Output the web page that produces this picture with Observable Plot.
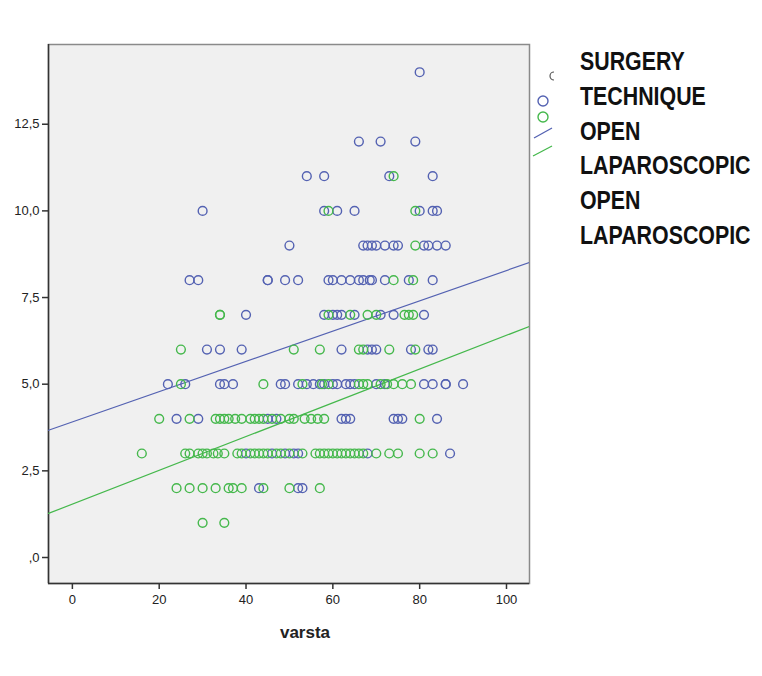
<!DOCTYPE html>
<html>
<head>
<meta charset="utf-8">
<script src="https://cdn.jsdelivr.net/npm/d3@7"></script>
<script src="https://cdn.jsdelivr.net/npm/@observablehq/plot@0.6"></script>
<style>
  html, body { margin: 0; padding: 0; background: #fff; }
  #wrap { position: relative; width: 762px; height: 676px; }
  #wrap svg.overlay { position: absolute; left: 0; top: 0; pointer-events: none; }
</style>
</head>
<body>
<div id="wrap"></div>
<script>
// ---- data ----
const groups = ["OPEN", "LAPAROSCOPIC"];
const groupColors = ["#5462b2", "#45b84c"];

// [score, [varsta values...]]
const openRows = [
  [14, [80]],
  [12, [66, 71, 79]],
  [11, [54, 58, 73, 83]],
  [10, [30, 58, 61, 65, 80, 83, 84]],
  [9,  [50, 67, 68, 69, 70, 72, 74, 75, 81, 82, 84, 86]],
  [8,  [27, 29, 45, 45, 49, 52, 59, 60, 62, 64, 66, 67, 68.5, 69, 72, 77.5, 83]],
  [7,  [40, 58, 60, 61, 62, 65, 71, 74, 81]],
  [6,  [31, 34, 39, 62, 68, 69, 70, 78, 82, 83]],
  [5,  [22, 26, 34, 35, 37, 48, 49, 52, 54, 55.5, 57, 58, 60, 61, 63, 64, 65, 70, 72, 81, 83, 86, 86, 90]],
  [4,  [24, 29, 45, 47, 62, 63, 64, 74, 75, 76, 84]],
  [3,  [40, 46, 49, 51, 52, 68, 87]],
  [2,  [43, 52, 53]]
];
const lapRows = [
  [11, [74]],
  [10, [59, 79]],
  [9,  [79]],
  [8,  [74, 78.5]],
  [7,  [34, 34, 59, 64, 68, 70, 76.5, 77.5, 78.5]],
  [6,  [25, 51, 57, 66, 67, 73, 79]],
  [5,  [25, 44, 53, 57.5, 59, 66, 67, 68, 71, 72.5, 74, 76, 78]],
  [4,  [20, 27, 33, 34, 35, 36, 37.5, 39, 41, 42, 43, 44, 46, 48, 50, 51, 53.5, 55, 56.5, 58, 80]],
  [3,  [16, 26, 27, 29, 30, 31, 32.5, 33.5, 35, 38, 39, 41, 42, 43, 44, 45, 47, 48, 50, 53, 56, 57, 58, 59, 60, 61, 62, 63, 64, 65, 66, 67, 70, 73, 75, 80, 83]],
  [2,  [24, 27, 30, 33, 36, 37, 39, 44, 50, 57]],
  [1,  [30, 35]]
];

// fit lines (intercept, slope) per group
const fitIntercepts = [3.91, 1.54];
const fitSlopes = [0.0437, 0.0487];

const xDomain = [-5.5, 105.3];
const yDomain = [-0.75, 14.8];
const xTicks = [0, 20, 40, 60, 80, 100];
const yTicks = [0, 2.5, 5, 7.5, 10, 12.5];
const yTickLabels = [",0", "2,5", "5,0", "7,5", "10,0", "12,5"];
const xLabel = "varsta";
const legendTitle = ["SURGERY", "TECHNIQUE"];
const legendItems = ["OPEN", "LAPAROSCOPIC", "OPEN", "LAPAROSCOPIC"];

// ---- build tables ----
const points = [];
[openRows, lapRows].forEach((rows, gi) => {
  rows.forEach(([score, xs]) => xs.forEach(v => points.push({varsta: v, score, group: groups[gi]})));
});
const fitLines = [];
groups.forEach((g, gi) => {
  xDomain.forEach(xv => fitLines.push({group: g, varsta: xv, score: fitIntercepts[gi] + fitSlopes[gi] * xv}));
});

const W = 762, H = 676;
const mL = 48, mR = 233, mT = 44, mB = 93;

const chart = Plot.plot({
  width: W,
  height: H,
  marginLeft: mL,
  marginRight: mR,
  marginTop: mT,
  marginBottom: mB,
  style: {fontFamily: "'Liberation Sans', Arial, sans-serif", fontSize: "13px", color: "#222", background: "#fff"},
  x: {domain: xDomain},
  y: {domain: yDomain},
  color: {domain: groups, range: groupColors},
  marks: [
    Plot.frame({fill: "#f0f0f0", stroke: "#8a8a8a", strokeWidth: 1.5}),
    Plot.ruleX([xDomain[0]], {stroke: "#333", strokeWidth: 1.5}),
    Plot.ruleY([yDomain[0]], {stroke: "#333", strokeWidth: 1.5}),
    Plot.line(fitLines, {x: "varsta", y: "score", z: "group", stroke: "group", strokeWidth: 1.2, clip: true}),
    Plot.dot(points, {x: "varsta", y: "score", stroke: "group", r: 4.4, strokeWidth: 1.4, fill: "none"}),
    Plot.axisY({ticks: yTicks, tickSize: 6, tickPadding: 3, tickFormat: d => yTickLabels[yTicks.indexOf(d)], label: null, stroke: "#333", strokeWidth: 1.5, fontSize: 13}),
    Plot.axisX({ticks: xTicks, tickSize: 6, tickPadding: 5, label: null, stroke: "#333", strokeWidth: 1.5, fontSize: 13})
  ]
});
document.getElementById("wrap").appendChild(chart);

// ---- overlay: axis title + legend ----
const ns = "http://www.w3.org/2000/svg";
const ov = d3.select("#wrap").append("svg")
  .attr("class", "overlay").attr("width", W).attr("height", H).attr("xmlns", ns);

ov.append("text").attr("x", 305).attr("y", 638).attr("text-anchor", "middle")
  .attr("font-family", "'Liberation Sans', Arial, sans-serif").attr("font-weight", "bold")
  .attr("font-size", 17).attr("fill", "#222").text(xLabel);

// clipped symbols of the original legend
ov.append("path").attr("d", "M554,72 A4,4 0 0 0 554,80").attr("fill", "none").attr("stroke", "#555").attr("stroke-width", 1.2);
ov.append("circle").attr("cx", 543).attr("cy", 101).attr("r", 5).attr("fill", "none").attr("stroke", groupColors[0]).attr("stroke-width", 1.4);
ov.append("circle").attr("cx", 543).attr("cy", 117).attr("r", 5).attr("fill", "none").attr("stroke", groupColors[1]).attr("stroke-width", 1.4);
ov.append("line").attr("x1", 534).attr("y1", 138).attr("x2", 552).attr("y2", 128).attr("stroke", groupColors[0]).attr("stroke-width", 1.3);
ov.append("line").attr("x1", 533).attr("y1", 156).attr("x2", 552).attr("y2", 146).attr("stroke", groupColors[1]).attr("stroke-width", 1.3);

// condensed legend text (narrow font emulated by horizontal scaling)
const lg = ov.append("g").attr("transform", "translate(580,0) scale(0.855,1)");
const legendLines = legendTitle.concat(legendItems);
legendLines.forEach((t, i) => {
  lg.append("text").attr("x", 0).attr("y", 70 + i * 34.8)
    .attr("font-family", "'Liberation Sans', Arial, sans-serif")
    .attr("font-weight", "bold").attr("font-size", 25).attr("fill", "#111").text(t);
});
</script>
</body>
</html>
